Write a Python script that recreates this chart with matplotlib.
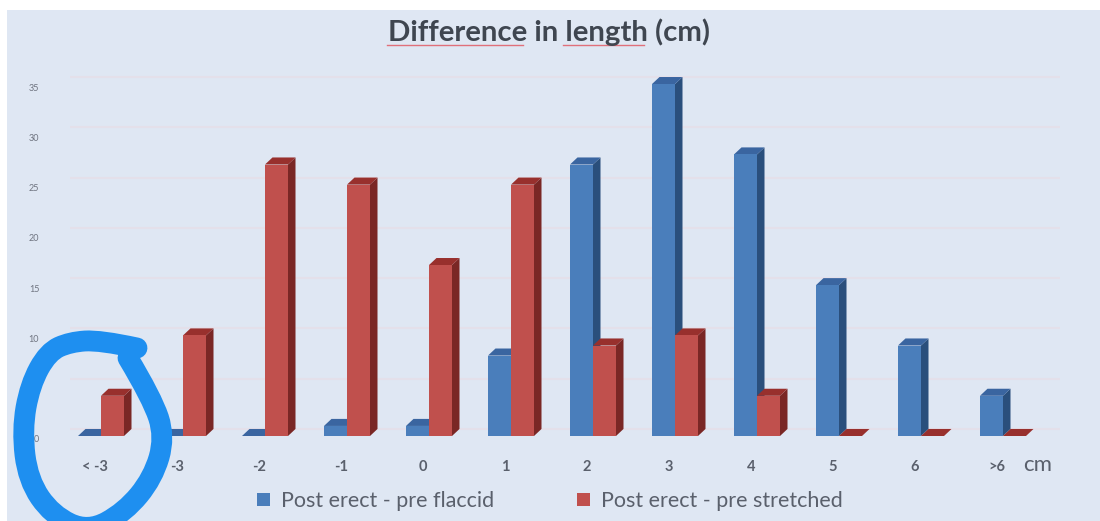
import matplotlib
matplotlib.use("Agg")
import matplotlib.pyplot as plt
from matplotlib.patches import Polygon, Rectangle, Patch, PathPatch
from matplotlib.lines import Line2D
from matplotlib.path import Path
from matplotlib.transforms import ScaledTranslation
import numpy as np

categories = ["< -3", "-3", "-2", "-1", "0", "1", "2", "3", "4", "5", "6", ">6"]
flaccid = [0, 0, 0, 1, 1, 8, 27, 35, 28, 15, 9, 4]
stretched = [4, 10, 27, 25, 17, 25, 9, 10, 4, 0, 0, 0]
y_ticks = [0, 5, 10, 15, 20, 25, 30, 35]
series_names = ["Post erect - pre flaccid", "Post erect - pre stretched"]

W, H = 1100, 521
BG = "#dfe7f3"
TXT = "#5a606c"
BLUE = ("#4a7ebb", "#2a4f7c", "#3a65a0")
RED = ("#c0504d", "#7a2725", "#98302d")

plt.rcParams["font.family"] = ["Lato", "DejaVu Sans"]
fig = plt.figure(figsize=(W / 100, H / 100), dpi=100, facecolor="white")
fig.add_artist(Rectangle((7 / W, 0), 1 - 7 / W, 1 - 10 / H, transform=fig.transFigure,
                         facecolor=BG, edgecolor="none", zorder=-5))

# axes: 60..1060 px horizontally, baseline at y=436 px, value 36 at y=74 px
L, R, B, T = 60, 1060, 436, 74
ax = fig.add_axes([L / W, 1 - B / H, (R - L) / W, (B - T) / H])
ax.patch.set_alpha(0)
unit = 82.0
origin = 839 - 9 * unit  # pixel position of category 0
ax.set_xlim((L - origin) / unit, (R - origin) / unit)
ax.set_ylim(0, 36)
for s in ax.spines.values():
    s.set_visible(False)

bw = 23 / unit
dx = 7.5 / unit
dy = 0.7
x = np.arange(len(categories))


def bar3d(xl, v, cols):
    ax.add_patch(Polygon([(xl + bw, 0), (xl + bw + dx, dy), (xl + bw + dx, v + dy), (xl + bw, v)],
                         closed=True, fc=cols[1], ec="none", zorder=3, clip_on=False))
    ax.add_patch(Polygon([(xl, v), (xl + dx, v + dy), (xl + bw + dx, v + dy), (xl + bw, v)],
                         closed=True, fc=cols[2], ec="none", zorder=3, clip_on=False))
    ax.bar(xl, v, width=bw, align="edge", color=cols[0], zorder=3, clip_on=False)


# back-wall gridlines
back0 = ax.get_xlim()[0] + 10 / unit
ax.hlines(np.array(y_ticks) + dy, back0, ax.get_xlim()[1], color="#e4e0ea", lw=1.6, zorder=1)

for i in x:
    bar3d(i - bw, flaccid[i], BLUE)
    bar3d(i, stretched[i], RED)

ax.set_xticks(x - 6 / unit)
ax.set_xticklabels(categories, fontsize=10.5, color=TXT, fontweight="bold")
ax.tick_params(axis="x", length=0, pad=17)
ax.set_yticks(y_ticks)
ax.set_yticklabels([str(v) for v in y_ticks], fontsize=6.5, color="#6f7480")
ax.tick_params(axis="y", length=0, pad=15)
off = ScaledTranslation(0, -0.03, fig.dpi_scale_trans)
for lab in ax.get_yticklabels():
    lab.set_transform(lab.get_transform() + off)

fig.text(1038 / W, 1 - 465 / H, "cm", fontsize=16, color=TXT, ha="center", va="center")

# title with the spell-check underlines seen in the source screenshot
fig.text(548.5 / W, 1 - 32 / H, "Difference in length (cm)", fontsize=21.2, fontweight="bold",
         color="#3f4650", ha="center", va="center")
for a, b in ((387, 523), (563, 644)):
    fig.add_artist(Line2D([a / W, b / W], [1 - 44.5 / H] * 2, color="#e0707a", lw=1))

handles = [Patch(fc=BLUE[0], ec="none"), Patch(fc=RED[0], ec="none")]
fig.legend(handles, series_names, ncol=2, loc="center", bbox_to_anchor=(550 / W, 1 - 501 / H),
           frameon=False, fontsize=15.5, labelcolor=TXT, handlelength=0.6, handleheight=0.6,
           handletextpad=0.5, columnspacing=3.86, borderpad=0)

# hand-drawn blue circle from the source screenshot, smoothed with quadratic segments
pts = np.array([(137, 348), (100, 340), (70, 342), (48, 352), (30, 385), (22, 430), (28, 480),
                (52, 515), (88, 532), (125, 512), (153, 478), (165, 437), (152, 398), (128, 358)], float)
pts[:, 1] = H - pts[:, 1]
verts = [pts[0]]
codes = [Path.MOVETO]
for j in range(1, len(pts) - 1):
    end = (pts[j] + pts[j + 1]) / 2 if j < len(pts) - 2 else pts[j + 1]
    verts += [pts[j], end]
    codes += [Path.CURVE3, Path.CURVE3]
fig.add_artist(PathPatch(Path(np.array(verts), codes), transform=None, fc="none", ec="#1e8ff0", lw=15,
                         capstyle="round", joinstyle="round", zorder=10))

fig.savefig("out.png", dpi=100)
